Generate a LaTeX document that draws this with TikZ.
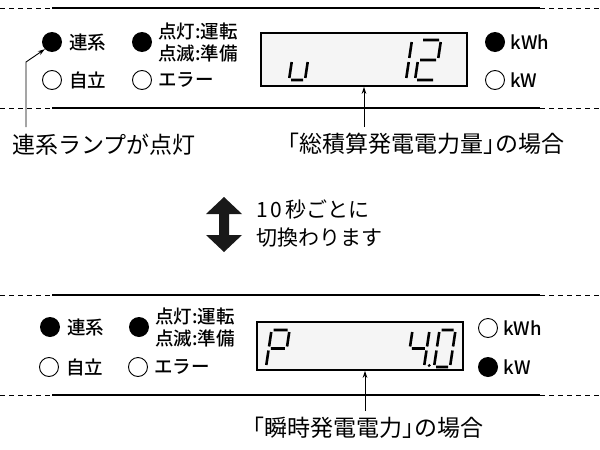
\documentclass[tikz,border=0pt]{standalone}
\usepackage{fontspec}
\setmainfont{Noto Sans CJK JP}
\newfontfamily\panelfont{Noto Sans CJK JP Medium}
\usetikzlibrary{positioning,arrows.meta}
\tikzset{
  lampon/.style={circle, fill=black, minimum size=20pt, inner sep=0pt},
  lampoff/.style={circle, draw, line width=.9pt, minimum size=19pt, inner sep=0pt},
  lamptext/.style={inner sep=0pt, font=\fontsize{18.5}{22}\selectfont\panelfont},
  caption/.style={inner sep=0pt, font=\fontsize{23}{28}\selectfont},
  lcd/.style={draw, line width=1.5pt, fill=gray!8, inner sep=0pt},
  seg/.style={line width=2.6pt},
  frame/.style={line width=1.5pt},
  frameend/.style={line width=1pt, dash pattern=on 5pt off 4pt},
  pointer/.style={line width=.9pt, -{Stealth[length=7pt, width=4.5pt]}},
}
\begin{document}
\begin{tikzpicture}[x=1pt, y=-1pt]
\useasboundingbox (0,0) rectangle (600,450);

% upper panel
\draw [frameend] (0, 8) -- (52, 8);
\draw [frame] (52, 8) -- (540, 8);
\draw [frameend] (540, 8) -- (600, 8);
\draw [frameend] (0, 108) -- (52, 108);
\draw [frame] (52, 108) -- (540, 108);
\draw [frameend] (540, 108) -- (600, 108);

\node [lampon] (renkeiA) at (52, 42) {};
\node [lamptext, right=7pt of renkeiA] {連系};
\node [lampon] (untenA) at (142, 42) {};
\node [lamptext, align=left, right=6pt of untenA] {点灯:運転\\点滅:準備};
\node [lampoff] (jiritsuA) at (52, 80) {};
\node [lamptext, right=7pt of jiritsuA] {自立};
\node [lampoff] (errorA) at (142, 80) {};
\node [lamptext, right=6pt of errorA] {エラー};
\node [lampon] (kwhA) at (495, 42) {};
\node [lamptext, right=5pt of kwhA] {kWh};
\node [lampoff] (kwA) at (495, 80) {};
\node [lamptext, right=5pt of kwA] {kW};

\node [lcd, minimum width=206pt, minimum height=53pt] (lcdA) at (364, 59.5) {};
\begin{scope}[shift={(289, 80)}, y=1pt, xslant=.15]
\draw [seg] (0, 2) -- (0, 18) (2, 0) -- (14, 0) (16, 2) -- (16, 18);
\end{scope}
\begin{scope}[shift={(406, 80)}, y=1pt, xslant=.15]
\draw [seg] (0, 2) -- (0, 18) (0, 22) -- (0, 38);
\end{scope}
\begin{scope}[shift={(415, 80)}, y=1pt, xslant=.15]
\draw [seg] (2, 40) -- (18, 40) (20, 38) -- (20, 22) (2, 20) -- (18, 20)
  (0, 18) -- (0, 2) (2, 0) -- (18, 0);
\end{scope}

\node [caption, anchor=west] (renkeiLbl) at (12, 145) {連系ランプが点灯};
\node [caption, anchor=west] (totalLbl) at (276, 144) {「総積算発電電力量」\kern-.45em の場合};
\coordinate (bendA) at (26, 62);
\draw [pointer] ([yshift=7pt]renkeiLbl.north -| bendA) -- (bendA) -- (renkeiA.south west);
\draw [pointer] ([yshift=6pt]lcdA.south |- totalLbl.north) -- (lcdA.south);

% switching every 10 s
\fill [black!90] (224, 197) -- (242, 214) -- (229, 214) -- (229, 235) -- (242, 235)
  -- (224, 252) -- (206, 235) -- (219, 235) -- (219, 214) -- (206, 214) -- cycle;
\node [inner sep=0pt, anchor=west, align=left, font=\fontsize{21}{28}\selectfont]
  (switchLbl) at (256, 224) {1\kern3pt0\kern3pt秒ごとに\\切換わります};

% lower panel
\draw [frameend] (0, 295) -- (52, 295);
\draw [frame] (52, 295) -- (540, 295);
\draw [frameend] (540, 295) -- (600, 295);
\draw [frameend] (0, 395) -- (52, 395);
\draw [frame] (52, 395) -- (540, 395);
\draw [frameend] (540, 395) -- (600, 395);

\node [lampon] (renkeiB) at (50, 327) {};
\node [lamptext, right=7pt of renkeiB] {連系};
\node [lampon] (untenB) at (139, 327) {};
\node [lamptext, align=left, right=6pt of untenB] {点灯:運転\\点滅:準備};
\node [lampoff] (jiritsuB) at (49, 367) {};
\node [lamptext, right=7pt of jiritsuB] {自立};
\node [lampoff] (errorB) at (138, 367) {};
\node [lamptext, right=6pt of errorB] {エラー};
\node [lampoff] (kwhB) at (488, 328) {};
\node [lamptext, right=5pt of kwhB] {kWh};
\node [lampon] (kwB) at (488, 367) {};
\node [lamptext, right=5pt of kwB] {kW};

\node [lcd, minimum width=206pt, minimum height=48pt] (lcdB) at (360, 346) {};
\begin{scope}[shift={(266, 367)}, y=1pt, xslant=.15]
\draw [seg] (2, 37) -- (16, 37) (18, 35) -- (18, 20.5) (0, 35) -- (0, 20.5)
  (2, 18.5) -- (16, 18.5) (0, 16.5) -- (0, 2);
\end{scope}
\begin{scope}[shift={(407, 367)}, y=1pt, xslant=.15]
\draw [seg] (0, 35) -- (0, 20.5) (2, 18.5) -- (15, 18.5) (17, 35) -- (17, 20.5)
  (17, 16.5) -- (17, 2);
\fill (22, 1.5) circle (1.6);
\end{scope}
\begin{scope}[shift={(434, 367)}, y=1pt, xslant=.15]
\draw [seg] (2, 37) -- (14, 37) (16, 35) -- (16, 20.5) (16, 16.5) -- (16, 2)
  (2, 0) -- (14, 0) (0, 16.5) -- (0, 2) (0, 35) -- (0, 20.5);
\end{scope}

\node [caption, anchor=west] (instLbl) at (241, 428) {「瞬時発電電力」\kern-.45em の場合};
\draw [pointer] ([xshift=5pt, yshift=6pt]instLbl.north -| lcdB.south) -- ([xshift=5pt]lcdB.south);
\end{tikzpicture}
\end{document}
